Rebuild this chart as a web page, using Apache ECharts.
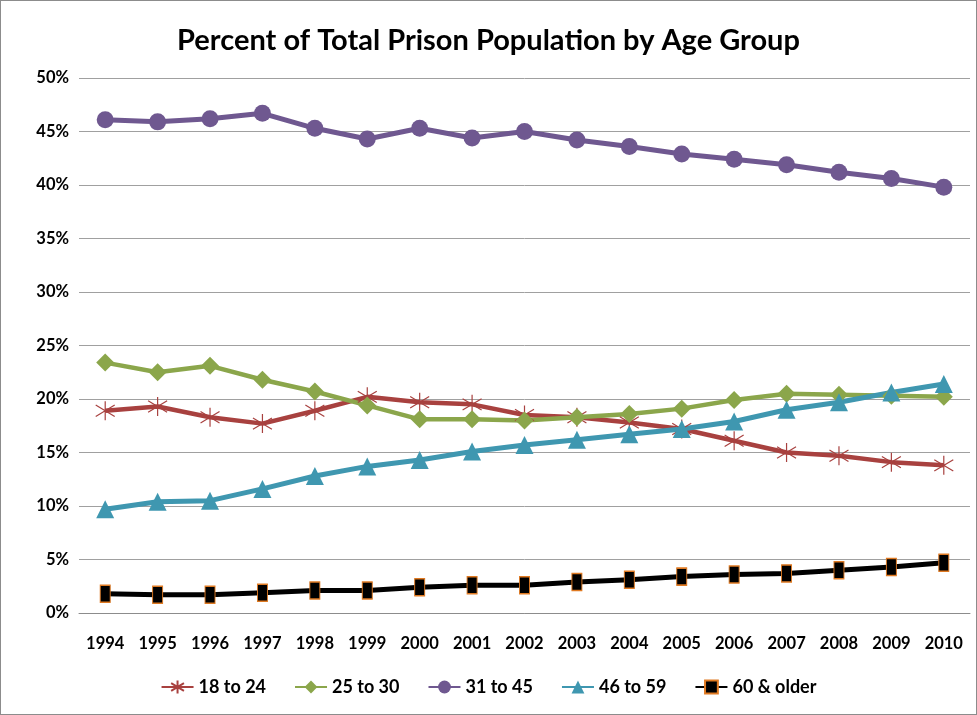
<!DOCTYPE html>
<html>
<head>
<meta charset="utf-8">
<script src="https://cdn.jsdelivr.net/npm/echarts@6/dist/echarts.min.js"></script>
<style>
html,body{margin:0;padding:0;background:#fff;}
#chart{width:977px;height:715px;box-sizing:border-box;border:1px solid #8c8c8c;}
</style>
</head>
<body>
<div id="chart"></div>
<script>
const years = ['1994','1995','1996','1997','1998','1999','2000','2001','2002','2003','2004','2005','2006','2007','2008','2009','2010'];
const age18to24 = [18.9,19.3,18.3,17.7,18.9,20.2,19.7,19.5,18.5,18.3,17.8,17.2,16.1,15.0,14.7,14.1,13.8];
const age25to30 = [23.4,22.5,23.1,21.8,20.7,19.4,18.1,18.1,18.0,18.3,18.6,19.1,19.9,20.5,20.4,20.3,20.2];
const age31to45 = [46.1,45.9,46.2,46.7,45.3,44.3,45.3,44.4,45.0,44.2,43.6,42.9,42.4,41.9,41.2,40.6,39.8];
const age46to59 = [9.7,10.4,10.5,11.6,12.8,13.7,14.3,15.1,15.7,16.2,16.7,17.2,17.9,19.0,19.7,20.6,21.4];
const age60plus = [1.8,1.7,1.7,1.9,2.1,2.1,2.4,2.6,2.6,2.9,3.1,3.4,3.6,3.7,4.0,4.3,4.7];
const seriesNames = ['18 to 24','25 to 30','31 to 45','46 to 59','60 & older'];

const font = 'Lato, "Open Sans", sans-serif';
const chart = echarts.init(document.getElementById('chart'), null, {renderer:'canvas'});
const asterisk = 'path://M10,0 L10,20 M1,4 L19,16 M1,16 L19,4';

chart.setOption({
  animation: false,
  backgroundColor: '#fff',
  textStyle: {fontFamily: font},
  title: {
    text: 'Percent of Total Prison Population by Age Group',
    left: 'center', top: 20,
    textStyle: {fontFamily: font, fontWeight: 'bold', fontSize: 29, color: '#000'}
  },
  grid: {left: 78, right: 6, top: 77, bottom: 101, containLabel: false},
  legend: {
    bottom: 13, left: 'center',
    itemWidth: 32, itemHeight: 16, itemGap: 28,
    textStyle: {fontFamily: font, fontWeight: 'bold', fontSize: 18, color: '#000'},
    data: seriesNames
  },
  xAxis: {
    type: 'category', data: years, boundaryGap: true,
    axisLine: {show: true, lineStyle: {color: '#8c8c8c', width: 1}},
    axisTick: {show: false},
    axisLabel: {fontFamily: font, fontWeight: 'bold', fontSize: 16.5, color: '#000', margin: 22, interval: 0}
  },
  yAxis: {
    type: 'value', min: 0, max: 50, interval: 5,
    axisLine: {show: false}, axisTick: {show: false},
    splitLine: {lineStyle: {color: '#a0a0a0', width: 1}},
    axisLabel: {formatter: '{value}%', fontFamily: font, fontWeight: 'bold', fontSize: 16.5, color: '#000', margin: 10}
  },
  series: [
    {name: seriesNames[0], type: 'line', data: age18to24,
     symbol: asterisk, symbolSize: 19,
     lineStyle: {color: '#A8413F', width: 4.5},
     itemStyle: {color: '#A8413F', borderColor: '#A8413F', borderWidth: 1.2}},
    {name: seriesNames[1], type: 'line', data: age25to30,
     symbol: 'diamond', symbolSize: 18,
     lineStyle: {color: '#8BA64B', width: 4.5},
     itemStyle: {color: '#8BA64B'}},
    {name: seriesNames[2], type: 'line', data: age31to45,
     symbol: 'circle', symbolSize: 17,
     lineStyle: {color: '#6F5890', width: 5},
     itemStyle: {color: '#6F5890'}},
    {name: seriesNames[3], type: 'line', data: age46to59,
     symbol: 'triangle', symbolSize: 18,
     lineStyle: {color: '#3F97B0', width: 5},
     itemStyle: {color: '#3F97B0'}},
    {name: seriesNames[4], type: 'line', data: age60plus,
     symbol: 'rect', symbolSize: [10, 17],
     lineStyle: {color: '#000', width: 5},
     itemStyle: {color: '#000', borderColor: '#E07A22', borderWidth: 1.2}}
  ]
});
</script>
</body>
</html>
